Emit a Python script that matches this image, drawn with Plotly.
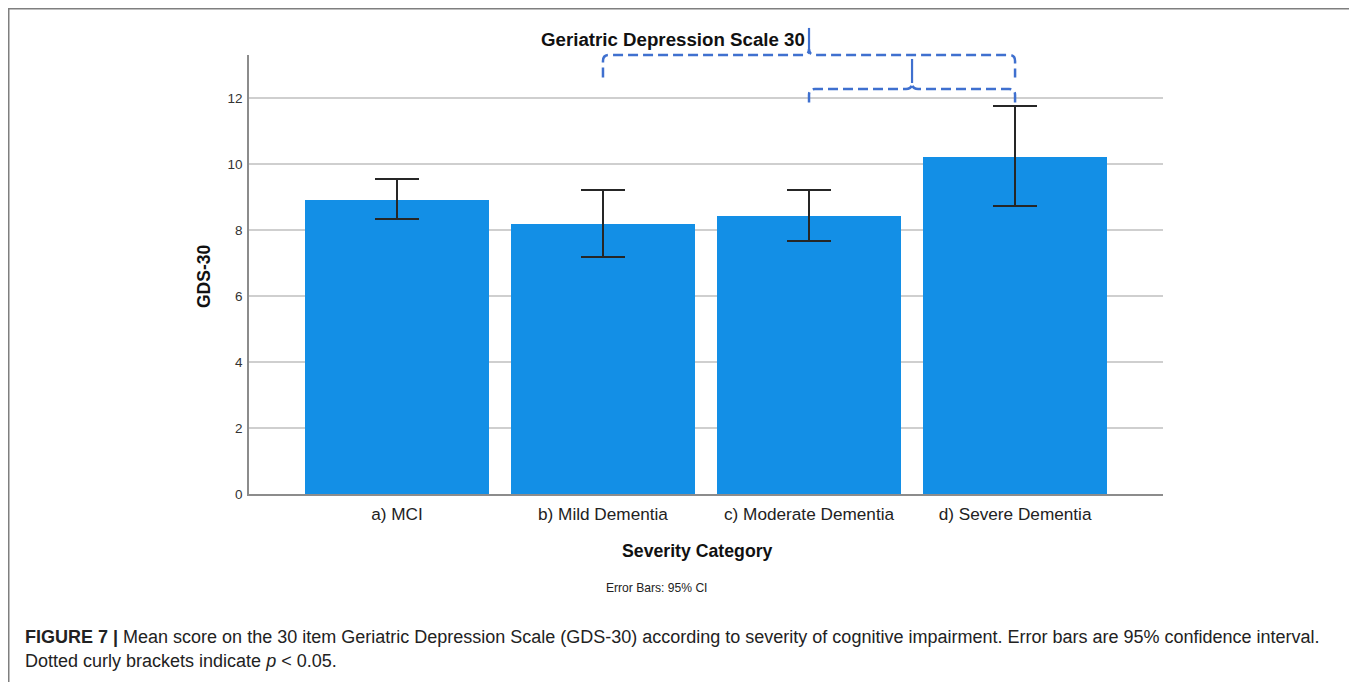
import plotly.graph_objects as go

# ---- data ----
categories = ["a) MCI", "b) Mild Dementia", "c) Moderate Dementia", "d) Severe Dementia"]
means = [8.91, 8.18, 8.42, 10.21]
ci_upper = [9.55, 9.21, 9.21, 11.76]
ci_lower = [8.33, 7.18, 7.67, 8.73]
tick_vals = [0, 2, 4, 6, 8, 10, 12]

# significance brackets: (left category index, right category index, line level, end level, peak level)
brackets = [
    (1, 3, 13.30, 12.62, 14.12),
    (2, 3, 12.27, 11.86, 13.18),
]

XMIN, XMAX = -0.718, 3.718
YMAX = 13.3

# page offset (body margin) and plot geometry in screen pixels
OFF = 8
W, H = 1357 - OFF, 682 - OFF
PLOT_L, PLOT_R, PLOT_T, PLOT_B = 249, 1163, 55, 494
ML = PLOT_L - OFF
MT = PLOT_T - OFF
MR = W - (PLOT_R - OFF)
MB = H - (PLOT_B - OFF)
PW = PLOT_R - PLOT_L
PH = PLOT_B - PLOT_T


def xp(i):
    return (i - XMIN) / (XMAX - XMIN)


def yp(v):
    return v / YMAX


def px_x(p):  # screen pixel -> paper x
    return (p - PLOT_L) / PW


def px_y(p):  # screen pixel -> paper y
    return (PLOT_B - p) / PH


err_plus = [u - m for u, m in zip(ci_upper, means)]
err_minus = [m - l for m, l in zip(means, ci_lower)]

fig = go.Figure()
fig.add_trace(go.Bar(
    x=list(range(len(categories))),
    y=means,
    width=0.893,
    marker=dict(color="#138fe6", line=dict(width=0)),
    error_y=dict(type="data", symmetric=False, array=err_plus, arrayminus=err_minus,
                 color="#262626", thickness=2, width=22),
    hoverinfo="skip",
))

shapes = []
BR_COLOR = "#3f70cf"
rx = 6 / PW
ry = 6 / PH
for (a, b, lvl, end, peak) in brackets:
    x0, x1 = xp(a), xp(b)
    xm = (x0 + x1) / 2
    yl, ye, yk = yp(lvl), yp(end), yp(peak)
    path = (
        f"M {x0},{ye} L {x0},{yl - ry} Q {x0},{yl} {x0 + rx},{yl} "
        f"L {xm - rx},{yl} Q {xm},{yl} {xm},{yl + ry} "
        f"Q {xm},{yl} {xm + rx},{yl} "
        f"L {x1 - rx},{yl} Q {x1},{yl} {x1},{yl - ry} L {x1},{ye}"
    )
    shapes.append(dict(type="path", xref="paper", yref="paper", path=path,
                       line=dict(color=BR_COLOR, width=2.5, dash="10px,5px")))
    shapes.append(dict(type="line", xref="paper", yref="paper",
                       x0=xm, x1=xm, y0=yl + ry, y1=yk,
                       line=dict(color=BR_COLOR, width=2.2)))

# outer frame
shapes.append(dict(type="rect", xref="paper", yref="paper",
                   x0=px_x(8.5), x1=px_x(1355), y0=px_y(730), y1=px_y(8.5),
                   line=dict(color="#7f7f7f", width=2), fillcolor="rgba(0,0,0,0)", layer="below"))

font_family = "Liberation Sans, Arial, sans-serif"

annotations = [
    dict(text="<b>Geriatric Depression Scale 30</b>", x=px_x(673), y=px_y(39),
         font=dict(size=18.7, color="#111111")),
    dict(text="<b>GDS-30</b>", x=px_x(204), y=px_y(277), textangle=-90,
         font=dict(size=17.5, color="#111111")),
    dict(text="<b>Severity Category</b>", x=px_x(697), y=px_y(551),
         font=dict(size=17.7, color="#111111")),
    dict(text="Error Bars: 95% CI", x=px_x(656), y=px_y(588),
         font=dict(size=12.1, color="#222222")),
    dict(text="<b>FIGURE 7 |</b> Mean score on the 30 item Geriatric Depression Scale (GDS-30) "
              "according to severity of cognitive impairment. Error bars are 95% confidence interval.",
         x=px_x(23), y=px_y(637), xanchor="left", font=dict(size=18, color="#222222")),
    dict(text="Dotted curly brackets indicate <i>p</i> &lt; 0.05.",
         x=px_x(23), y=px_y(661), xanchor="left", font=dict(size=18, color="#222222")),
]
for a in annotations:
    a.setdefault("xanchor", "center")
    a.update(xref="paper", yref="paper", showarrow=False, yanchor="middle")

fig.update_layout(
    width=W, height=H,
    margin=dict(l=ML, r=MR, t=MT, b=MB, pad=0),
    paper_bgcolor="white", plot_bgcolor="white",
    font=dict(family=font_family, color="#222222"),
    showlegend=False,
    bargap=0,
    xaxis=dict(range=[XMIN, XMAX], tickmode="array", tickvals=list(range(len(categories))),
               ticktext=categories, showgrid=False, zeroline=False,
               showline=True, linecolor="#8c8c8c", linewidth=1.5, ticks="",
               ticklabelstandoff=4,
               tickfont=dict(size=17.2, color="#222222"), fixedrange=True),
    yaxis=dict(range=[0, YMAX], tickmode="array", tickvals=tick_vals,
               showgrid=True, gridcolor="#cfcfcf", gridwidth=1.5, zeroline=False,
               showline=True, linecolor="#8c8c8c", linewidth=1.5, ticks="",
               ticklabelstandoff=2,
               tickfont=dict(size=13.5, color="#333333"), fixedrange=True),
    shapes=shapes,
    annotations=annotations,
)

fig.write_html("out.html")
